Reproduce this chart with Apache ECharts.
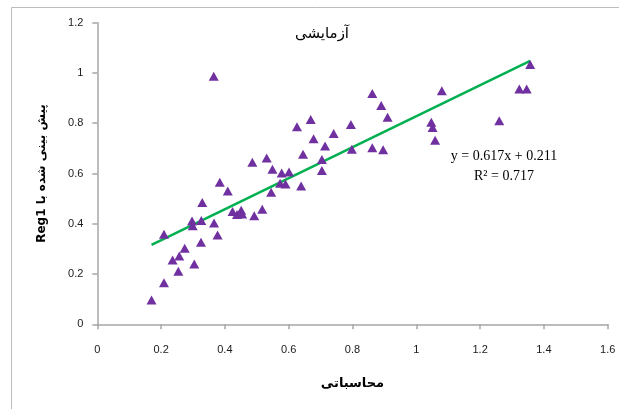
<!DOCTYPE html>
<html>
<head>
<meta charset="utf-8">
<script src="https://cdn.jsdelivr.net/npm/echarts@6/dist/echarts.min.js"></script>
<style>html,body{margin:0;padding:0;background:#fff;}#c{width:619px;height:409px;}</style>
</head>
<body>
<div id="c"></div>
<script>
// Observed (x = محاسباتی, y = پیش بینی شده با Reg1)
const xValues = [0.170,0.209,0.209,0.236,0.254,0.257,0.274,0.297,0.299,0.304,0.325,0.326,0.329,0.365,0.366,0.377,0.384,0.409,0.424,0.438,0.451,0.454,0.486,0.492,0.517,0.531,0.545,0.549,0.573,0.578,0.590,0.601,0.626,0.639,0.645,0.669,0.678,0.704,0.704,0.714,0.741,0.795,0.798,0.862,0.862,0.890,0.896,0.910,1.047,1.051,1.059,1.080,1.260,1.323,1.346,1.357];
const yValues = [0.097,0.165,0.358,0.256,0.211,0.272,0.303,0.411,0.392,0.240,0.326,0.413,0.485,0.987,0.403,0.355,0.565,0.530,0.449,0.437,0.454,0.439,0.645,0.432,0.458,0.662,0.525,0.617,0.561,0.602,0.558,0.606,0.786,0.550,0.677,0.815,0.738,0.656,0.612,0.709,0.759,0.795,0.696,0.918,0.702,0.871,0.694,0.824,0.804,0.783,0.732,0.929,0.810,0.936,0.936,1.034];
// Trendline endpoints
const trendX = [0.170, 1.357];
const trendY = [0.316, 1.048];
const xTicks = [0,0.2,0.4,0.6,0.8,1,1.2,1.4,1.6];
const yTicks = [0,0.2,0.4,0.6,0.8,1,1.2];
const titleText = 'آزمایشی';
const equationText = 'y = 0.617x + 0.211';
const r2Text = 'R² = 0.717';
const xName = 'محاسباتی';
const yName = 'پیش بینی شده با Reg1';

const points = xValues.map((x, i) => [x, yValues[i]]);
const trend = trendX.map((x, i) => [x, trendY[i]]);
const fmt = v => String(v);
const rtl = s => '\u202B' + s + '\u202C';

const chart = echarts.init(document.getElementById('c'), null, {renderer: 'canvas'});
const axisLine = {lineStyle: {color: '#a6a6a6', width: 1.5}};
chart.setOption({
  animation: false,
  backgroundColor: '#fff',
  grid: {left: 97.3, right: 11.3, top: 22.7, bottom: 84.7, containLabel: false},
  xAxis: {
    type: 'value', min: 0, max: 1.6, interval: 0.2,
    name: xName, nameLocation: 'middle', nameGap: 53,
    nameTextStyle: {fontFamily: 'DejaVu Sans', fontWeight: 'bold', fontSize: 13, color: '#000'},
    axisLine: axisLine,
    axisTick: {show: true, inside: false, length: 5, lineStyle: {color: '#a6a6a6', width: 1.5}},
    axisLabel: {margin: 20, fontFamily: 'Liberation Sans', fontSize: 11, color: '#1a1a1a',
      formatter: v => fmt(xTicks.find(t => Math.abs(t - v) < 1e-6) ?? v)},
    splitLine: {show: false}
  },
  yAxis: {
    type: 'value', min: 0, max: 1.2, interval: 0.2,
    name: rtl(yName), nameLocation: 'middle', nameGap: 49, nameRotate: 90,
    nameTextStyle: {fontFamily: 'DejaVu Sans', fontWeight: 'bold', fontSize: 12, color: '#000'},
    axisLine: axisLine,
    axisTick: {show: true, inside: false, length: 5, lineStyle: {color: '#a6a6a6', width: 1.5}},
    axisLabel: {margin: 14, fontFamily: 'Liberation Sans', fontSize: 11, color: '#1a1a1a',
      formatter: v => fmt(yTicks.find(t => Math.abs(t - v) < 1e-6) ?? v)},
    splitLine: {show: false}
  },
  graphic: [
    {type: 'rect', silent: true, z: -1, shape: {x: 11.5, y: 7.5, width: 700, height: 500},
      style: {fill: 'none', stroke: '#bcbcbc', lineWidth: 1}},
    {type: 'text', silent: true, position: [322, 34],
      style: {text: titleText, fontFamily: 'DejaVu Serif, DejaVu Sans', fontSize: 15, fill: '#000', align: 'center', verticalAlign: 'middle'}},
    {type: 'text', silent: true, position: [504, 156],
      style: {text: equationText, fontFamily: 'Liberation Serif', fontSize: 14, fill: '#000', align: 'center', verticalAlign: 'middle'}},
    {type: 'text', silent: true, position: [504, 176],
      style: {text: r2Text, fontFamily: 'Liberation Serif', fontSize: 14, fill: '#000', align: 'center', verticalAlign: 'middle'}}
  ],
  series: [
    {type: 'line', data: trend, symbol: 'none', lineStyle: {color: '#00B050', width: 2.5}, z: 2, silent: true},
    {type: 'scatter', data: points, symbol: 'triangle', symbolSize: [10, 9],
      itemStyle: {color: '#7030A0', opacity: 1}, z: 3, silent: true}
  ]
});
</script>
</body>
</html>
